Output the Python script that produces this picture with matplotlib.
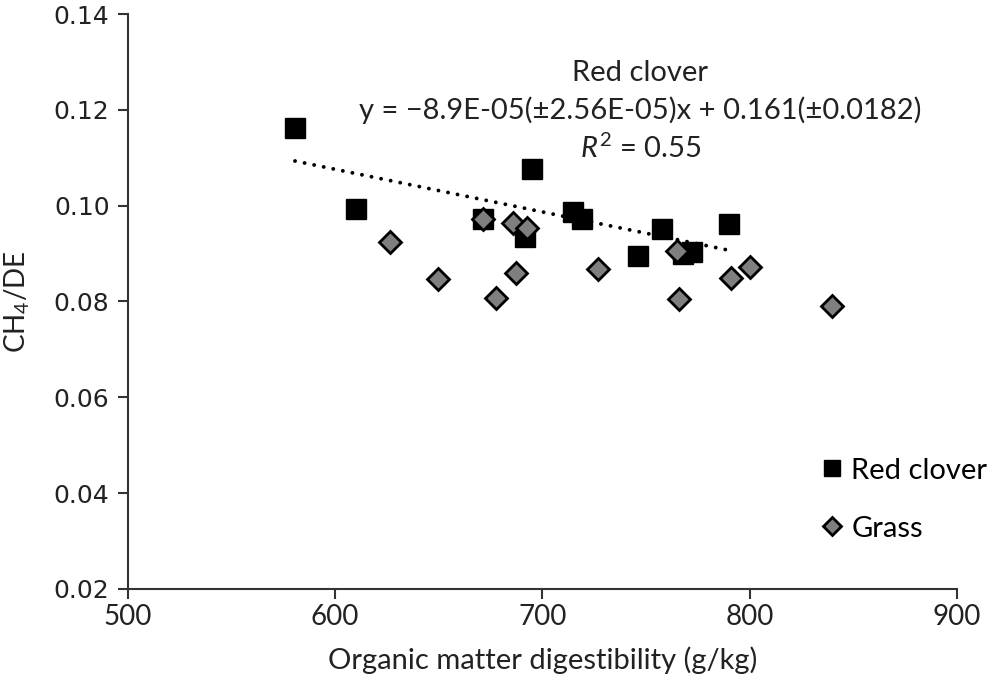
import matplotlib
matplotlib.use('Agg')
import matplotlib.pyplot as plt
import numpy as np

# Red clover (squares)
clover_omd = [580.7, 610.0, 671.5, 691.6, 695.2, 714.9, 719.0, 746.0, 757.6, 768.0, 772.0, 790.2]
clover_ch4 = [0.1163, 0.0992, 0.0972, 0.0935, 0.1076, 0.0987, 0.0972, 0.0895, 0.0951, 0.0899, 0.0904, 0.0961]

# Grass (diamonds)
grass_omd = [626.5, 649.8, 671.5, 677.5, 685.7, 687.3, 692.4, 726.7, 765.0, 766.0, 791.0, 800.0, 839.6]
grass_ch4 = [0.0924, 0.0847, 0.0972, 0.0808, 0.0963, 0.0860, 0.0953, 0.0867, 0.0906, 0.0805, 0.0848, 0.0871, 0.0791]

# fitted line for red clover
slope = -8.9e-05
intercept = 0.161

xticks = [500, 600, 700, 800, 900]
yticks = [0.02, 0.04, 0.06, 0.08, 0.10, 0.12, 0.14]

plt.rcParams['font.family'] = ['Lato', 'DejaVu Sans']
plt.rcParams['mathtext.fontset'] = 'custom'
plt.rcParams['mathtext.rm'] = 'Lato'
plt.rcParams['mathtext.it'] = 'Lato:italic'

fig = plt.figure(figsize=(9.99, 6.90), dpi=100)
ax = fig.add_axes([0.1278, 0.1464, 0.8302, 0.8333])

ax.plot(clover_omd, clover_ch4, linestyle='none', marker='s', markersize=14,
        color='black', label='Red clover', zorder=3)
ax.plot(grass_omd, grass_ch4, linestyle='none', marker='D', markersize=11,
        markerfacecolor='#7f7f7f', markeredgecolor='black', markeredgewidth=2,
        label='Grass', zorder=4)

fit_x = np.array([min(clover_omd), max(clover_omd)])
ax.plot(fit_x, slope * fit_x + intercept, color='black', linewidth=2.8,
        linestyle=(0, (0.01, 2.5)), dash_capstyle='round', zorder=2)

txt_color = '#222222'
ax.text(0.618, 0.897, 'Red clover', transform=ax.transAxes, ha='center',
        va='center', fontsize=21, color=txt_color)
ax.text(0.618, 0.832, 'y = \u22128.9E-05(\u00b12.56E-05)x + 0.161(\u00b10.0182)',
        transform=ax.transAxes, ha='center', va='center', fontsize=21, color=txt_color)
ax.text(0.618, 0.767, r'$R^2$ = 0.55', transform=ax.transAxes, ha='center',
        va='center', fontsize=21, color=txt_color)

ax.set_xlim(500, 900)
ax.set_ylim(0.02, 0.14)
ax.set_xticks(xticks)
ax.set_yticks(yticks)
ax.set_yticklabels(['%.2f' % v for v in yticks], family='DejaVu Sans')
ax.tick_params(axis='both', direction='out', length=7, width=1.5,
               labelsize=20, colors='#333333', labelcolor=txt_color)
ax.tick_params(axis='y', labelsize=18, pad=6)

for s in ['top', 'right']:
    ax.spines[s].set_visible(False)
for s in ['left', 'bottom']:
    ax.spines[s].set_linewidth(1.5)
    ax.spines[s].set_color('#333333')

ax.set_xlabel('Organic matter digestibility (g/kg)', fontsize=21, color=txt_color, labelpad=12)
ax.set_ylabel(r'CH$_{\mathit{4}}$/DE', fontsize=20, color=txt_color, labelpad=16)

ax.legend(loc='lower left', bbox_to_anchor=(0.825, 0.062), frameon=False,
          fontsize=21, handlelength=0.6, handletextpad=0.35, labelspacing=1.1,
          markerscale=0.85, borderaxespad=0)

plt.savefig('out.png', dpi=100)
